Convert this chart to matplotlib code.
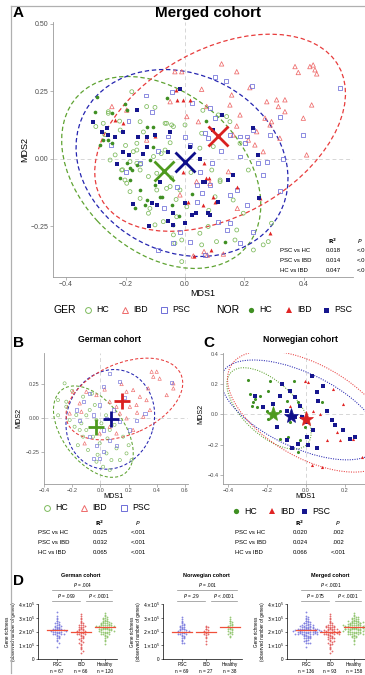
import numpy as np
import matplotlib
matplotlib.use("Agg")
import matplotlib.pyplot as plt
from matplotlib.patches import Ellipse

plt.rcParams['font.family'] = ['Liberation Sans', 'DejaVu Sans']

W, H = 365, 675

# ---------------- data: panel A (merged cohort, MDS) ----------------
a_ger_hc = [(-0.179, 0.249), (-0.258, 0.175), (-0.129, 0.194), (-0.101, 0.191), (-0.062, 0.132),
            (-0.045, 0.126), (0.0, 0.126), (-0.162, 0.058), (-0.235, 0.015), (-0.252, -0.004),
            (-0.174, 0.027), (-0.162, -0.016), (-0.106, 0.009), (-0.095, -0.053), (-0.123, -0.065),
            (-0.202, -0.078), (-0.196, -0.09), (0.112, 0.163), (0.140, 0.157), (0.151, 0.138),
            (0.095, 0.046), (0.185, 0.058), (0.213, -0.041), (0.118, -0.084), (-0.185, -0.121),
            (-0.151, -0.146), (-0.118, -0.183), (-0.123, -0.201), (-0.101, -0.244), (-0.073, -0.232),
            (-0.028, -0.214), (-0.039, -0.281), (-0.034, -0.312), (-0.011, -0.30), (0.050, -0.275),
            (0.078, -0.25), (0.101, -0.14), (0.118, -0.078), (0.162, -0.152), (0.196, -0.201),
            (0.174, -0.263), (0.168, -0.30), (0.106, -0.306), (0.230, -0.337), (0.263, -0.318),
            (0.280, -0.306), (0.291, -0.238), (-0.011, -0.38), (0.056, -0.318), (-0.095, -0.115),
            (-0.062, -0.109), (-0.20, 0.05), (-0.30, 0.12), (-0.22, 0.14), (-0.05, 0.06),
            (0.05, 0.04), (-0.15, -0.02), (-0.08, 0.02), (0.02, -0.05), (0.06, 0.18),
            (-0.27, 0.09), (-0.14, 0.10), (-0.03, -0.15), (0.08, -0.19), (-0.21, -0.04),
            (-0.258, 0.169), (-0.275, 0.132), (-0.218, 0.107), (-0.151, 0.138), (-0.067, 0.132),
            (-0.039, 0.120), (-0.067, 0.033), (-0.162, 0.033), (-0.185, -0.010), (-0.151, -0.041),
            (-0.213, -0.041), (-0.045, -0.070), (-0.050, -0.102), (-0.017, -0.115), (0.006, -0.177),
            (0.090, -0.041), (0.056, 0.095)]
a_ger_ibd = [(0.123, 0.352), (0.174, 0.323), (0.370, 0.342), (0.381, 0.320), (0.420, 0.342),
             (0.431, 0.348), (0.437, 0.330), (0.443, 0.315), (0.426, 0.200), (0.398, 0.151),
             (0.056, 0.258), (0.218, 0.264), (0.157, 0.237), (0.151, 0.200), (0.185, 0.163),
             (0.275, 0.212), (0.308, 0.219), (0.336, 0.219), (0.314, 0.194), (0.336, 0.175),
             (0.269, 0.151), (0.291, 0.138), (0.286, 0.126), (0.241, 0.101), (0.213, 0.070),
             (0.162, 0.089), (0.174, 0.122), (0.319, 0.077), (0.235, 0.052), (0.263, 0.027),
             (0.409, 0.015), (0.006, 0.157), (0.045, 0.138), (-0.050, 0.212), (-0.034, 0.323),
             (-0.011, 0.323), (0.073, 0.194), (-0.246, 0.194), (-0.196, 0.181), (-0.129, 0.070),
             (0.146, -0.047), (0.084, -0.090), (0.039, -0.084), (-0.017, -0.133), (0.176, -0.183),
             (0.064, -0.343), (0.075, -0.356), (0.129, -0.352), (0.028, -0.359)]
a_ger_psc = [(0.101, 0.305), (0.137, 0.290), (0.224, 0.270), (-0.045, 0.247), (-0.131, 0.235),
             (-0.112, 0.175), (0.022, 0.206), (0.084, 0.188), (-0.056, 0.083), (0.067, 0.095),
             (0.078, 0.077), (0.151, 0.089), (0.185, 0.083), (0.207, 0.083), (0.202, 0.058),
             (0.230, 0.107), (0.286, 0.089), (0.319, 0.157), (0.398, 0.089), (0.521, 0.262),
             (0.185, 0.009), (0.246, -0.016), (0.275, -0.010), (0.263, -0.059), (0.090, -0.016),
             (-0.151, -0.016), (0.017, 0.052), (-0.028, -0.103), (0.039, -0.096), (0.084, -0.096),
             (0.151, -0.133), (0.174, -0.115), (0.039, -0.158), (0.112, -0.232), (0.151, -0.238),
             (0.140, -0.263), (0.185, -0.312), (0.230, -0.269), (0.017, -0.306), (-0.017, -0.269),
             (-0.039, -0.312), (-0.090, -0.337), (0.067, -0.356), (0.056, -0.127), (-0.09, 0.03),
             (0.12, 0.03), (-0.19, 0.14), (0.05, -0.05), (-0.20, -0.05), (-0.25, 0.05),
             (0.32, -0.12), (0.10, 0.15), (0.0, 0.08), (-0.07, -0.18), (0.21, -0.17), (0.33, 0.0)]
a_nor_hc = [(-0.303, 0.175), (-0.202, 0.204), (-0.196, 0.181), (-0.275, 0.070), (-0.258, 0.070),
            (-0.246, 0.058), (-0.286, 0.052), (-0.196, -0.016), (-0.218, -0.072), (-0.185, -0.078),
            (-0.179, -0.041), (-0.162, -0.022), (-0.151, -0.115), (-0.129, -0.152), (-0.168, -0.183),
            (-0.062, 0.225), (-0.118, -0.004), (-0.101, -0.096), (-0.084, -0.140), (-0.045, -0.170),
            (-0.297, 0.231), (-0.246, 0.170), (-0.129, 0.120), (-0.106, 0.120), (-0.106, 0.046),
            (-0.185, -0.035), (-0.134, -0.170), (-0.078, -0.140), (-0.039, -0.244), (0.134, -0.306),
            (0.025, -0.13), (0.07, 0.14), (-0.02, -0.21)]
a_nor_ibd = [(-0.207, 0.132), (-0.235, 0.144), (-0.028, 0.219), (-0.008, 0.219), (0.017, 0.219),
             (-0.030, 0.256), (-0.101, 0.085), (0.071, -0.070), (-0.007, -0.048), (0.094, -0.141),
             (0.061, -0.170), (0.009, -0.158), (0.176, -0.105), (0.252, -0.144), (0.286, -0.273),
             (0.086, -0.337), (0.030, -0.359), (0.064, -0.014), (0.082, -0.072), (0.101, -0.158)]
a_nor_psc = [(-0.017, 0.258), (-0.162, 0.181), (-0.308, 0.138), (-0.280, 0.101), (-0.263, 0.114),
             (-0.258, 0.089), (-0.235, 0.083), (-0.207, 0.027), (-0.190, 0.015), (-0.157, 0.083),
             (-0.129, 0.083), (-0.101, 0.089), (-0.129, 0.046), (-0.056, 0.027), (0.017, 0.046),
             (0.095, 0.107), (0.123, 0.163), (0.230, 0.114), (0.246, 0.015), (0.162, -0.059),
             (0.146, -0.078), (0.062, -0.084), (-0.084, -0.084), (-0.174, -0.167), (-0.112, -0.164),
             (-0.095, -0.170), (-0.039, -0.201), (-0.056, -0.228), (-0.039, -0.244), (0.0, -0.236),
             (0.022, -0.207), (0.037, -0.200), (0.078, -0.200), (0.084, -0.207), (0.067, -0.084),
             (0.0, -0.164), (0.250, -0.146), (-0.21, 0.10), (-0.23, -0.02), (-0.05, 0.10),
             (0.05, 0.00), (-0.14, 0.02), (0.11, -0.16), (-0.12, -0.25)]
a_centroids = {'HC': (-0.071, -0.044), 'PSC': (0.0, -0.012), 'IBD': (0.112, 0.085)}
# ellipse: centre x, centre y, full width, full height, angle
a_ellipses = {'HC': (-0.08, -0.05, 0.80, 0.56, -50), 'PSC': (-0.01, -0.015, 0.76, 0.64, -40),
              'IBD': (0.118, 0.097, 0.94, 0.60, 35)}
a_stats = [('PSC vs HC', '0.018', '<.001'), ('PSC vs IBD', '0.014', '<.001'), ('HC vs IBD', '0.047', '<.001')]

# ---------------- data: panel B (German cohort) ----------------
b_hc = [(-0.254, 0.255), (-0.301, 0.132), (-0.242, 0.083), (-0.171, 0.022), (-0.135, -0.039),
        (-0.100, -0.088), (-0.052, -0.137), (-0.005, -0.186), (0.043, -0.260), (0.078, -0.309),
        (0.019, -0.358), (-0.028, -0.321), (-0.088, -0.235), (-0.123, -0.137), (-0.183, -0.064),
        (-0.218, -0.015), (-0.076, 0.059), (-0.040, 0.096), (-0.123, 0.157), (0.114, -0.223),
        (0.185, -0.260), (0.221, -0.309), (0.161, -0.137), (0.066, -0.088), (0.007, -0.039),
        (-0.028, -0.015), (0.138, -0.309), (0.066, -0.382), (-0.147, -0.088), (-0.242, 0.120),
        (-0.20, 0.20), (-0.06, 0.18), (0.04, 0.02), (-0.16, -0.20), (0.10, -0.05), (-0.02, -0.27),
        (-0.30, 0.02), (0.20, -0.20), (0.05, -0.15), (-0.10, 0.02)]
b_ibd = [(0.363, 0.341), (0.399, 0.341), (0.375, 0.304), (0.517, 0.255), (0.470, 0.169),
         (0.339, 0.218), (0.232, 0.206), (0.185, 0.194), (0.280, 0.157), (0.327, 0.132),
         (0.256, 0.096), (0.209, 0.083), (0.114, 0.083), (0.066, 0.120), (-0.028, 0.169),
         (-0.100, 0.194), (-0.195, 0.194), (-0.147, 0.108), (-0.135, 0.047), (-0.218, 0.034),
         (0.138, 0.034), (0.185, -0.002), (0.066, -0.064), (0.114, -0.113), (0.232, -0.088),
         (-0.005, -0.113), (-0.112, -0.186), (0.304, 0.010), (0.351, 0.059), (0.517, 0.218),
         (0.42, 0.29), (0.15, 0.25), (0.03, 0.21), (0.26, 0.04)]
b_psc = [(0.505, 0.26), (0.066, 0.328), (0.138, 0.267), (0.019, 0.23), (-0.076, 0.181),
         (-0.123, 0.120), (-0.005, 0.096), (0.090, 0.059), (-0.052, 0.022), (0.043, -0.002),
         (0.138, -0.027), (0.256, -0.015), (0.209, -0.088), (0.019, -0.088), (-0.076, -0.137),
         (-0.028, -0.199), (0.019, -0.248), (-0.005, -0.297), (-0.052, -0.297), (0.066, -0.162),
         (0.114, -0.199), (-0.171, 0.059), (-0.147, -0.015), (0.316, 0.034), (0.17, 0.15)]
b_centroids = {'HC': (-0.033, -0.064), 'PSC': (0.078, -0.010), 'IBD': (0.156, 0.127)}
b_ellipses = {'HC': (-0.05, -0.10, 0.76, 0.44, -55), 'PSC': (0.07, -0.01, 0.74, 0.62, 75),
              'IBD': (0.17, 0.14, 0.88, 0.52, 25)}
b_stats = [('PSC vs HC', '0.025', '<.001'), ('PSC vs IBD', '0.032', '<.001'), ('HC vs IBD', '0.065', '<.001')]

# ---------------- data: panel C (Norwegian cohort) ----------------
c_hc = [(-0.296, 0.227), (-0.287, 0.135), (-0.274, 0.081), (-0.262, 0.102), (-0.236, 0.124),
        (-0.193, 0.157), (-0.185, 0.222), (-0.279, 0.059), (-0.253, 0.048), (-0.202, 0.026),
        (-0.193, -0.028), (-0.133, 0.026), (-0.099, 0.092), (-0.060, 0.218), (-0.082, -0.050),
        (-0.133, -0.159), (-0.091, -0.148), (-0.031, -0.170), (-0.005, -0.083), (-0.039, -0.246),
        (0.080, 0.081), (-0.039, 0.081)]
c_ibd = [(-0.005, 0.222), (0.012, 0.211), (0.038, 0.026), (0.072, 0.004), (0.140, 0.168),
         (0.191, 0.070), (0.157, -0.115), (0.106, -0.170), (0.174, -0.170), (0.029, -0.333),
         (0.080, -0.344), (0.285, -0.279), (0.243, -0.159), (-0.082, 0.059)]
c_psc = [(-0.219, 0.048), (-0.262, 0.124), (-0.125, 0.200), (-0.133, 0.124), (-0.082, 0.157),
         (-0.056, 0.113), (-0.031, 0.059), (-0.099, 0.026), (-0.056, -0.017), (0.003, -0.050),
         (0.055, 0.146), (0.063, 0.092), (0.106, 0.026), (0.132, -0.039), (0.149, -0.072),
         (0.191, -0.105), (0.038, -0.105), (0.003, -0.148), (-0.039, -0.192), (-0.074, -0.224),
         (-0.099, -0.170), (-0.150, -0.083), (0.029, 0.255), (0.089, 0.190), (0.226, -0.159),
         (-0.022, -0.017), (0.012, -0.203), (0.055, -0.224), (-0.17, 0.07), (0.25, -0.15)]
c_centroids = {'HC': (-0.168, 0.005), 'PSC': (-0.077, -0.007), 'IBD': (0.0, -0.028)}
c_ellipses = {'HC': (-0.19, 0.04, 0.62, 0.30, -55), 'PSC': (-0.03, 0.03, 0.94, 0.46, -35),
              'IBD': (0.02, 0.02, 1.02, 0.56, -42)}
c_stats = [('PSC vs HC', '0.020', '.002'), ('PSC vs IBD', '0.024', '.002'), ('HC vs IBD', '0.066', '<.001')]

# ---------------- data: panel D (gene richness, x10^5) ----------------
d_groups = ['PSC', 'IBD', 'Healthy']
ger_psc = [3.45, 3.15, 3.0, 2.9, 2.8, 2.75, 2.7, 2.65, 2.6, 2.55, 2.5, 2.45, 2.4, 2.4, 2.35, 2.3, 2.3,
           2.25, 2.25, 2.2, 2.2, 2.2, 2.15, 2.15, 2.1, 2.1, 2.1, 2.1, 2.05, 2.05, 2.0, 2.0, 2.0, 1.95,
           1.95, 1.9, 1.9, 1.85, 1.85, 1.8, 1.8, 1.75, 1.7, 1.65, 1.6, 1.55, 1.5, 1.4, 1.3, 1.2, 0.9]
ger_ibd = [3.3, 3.15, 3.0, 2.9, 2.8, 2.7, 2.65, 2.6, 2.5, 2.5, 2.45, 2.4, 2.35, 2.3, 2.3, 2.25, 2.2,
           2.2, 2.15, 2.1, 2.1, 2.05, 2.05, 2.0, 2.0, 2.0, 1.95, 1.95, 1.9, 1.9, 1.85, 1.8, 1.8, 1.75,
           1.7, 1.65, 1.6, 1.55, 1.5, 1.45, 1.4, 1.3, 1.25, 1.2, 1.1, 1.0, 0.9, 0.8, 0.7, 0.6, 0.45]
ger_healthy = [3.35, 3.2, 3.1, 3.05, 3.0, 2.95, 2.9, 2.9, 2.85, 2.8, 2.8, 2.75, 2.75, 2.7, 2.7, 2.65,
               2.65, 2.6, 2.6, 2.6, 2.55, 2.55, 2.5, 2.5, 2.5, 2.45, 2.45, 2.45, 2.4, 2.4, 2.4, 2.35,
               2.35, 2.35, 2.3, 2.3, 2.3, 2.3, 2.25, 2.25, 2.25, 2.2, 2.2, 2.2, 2.2, 2.15, 2.15, 2.15,
               2.1, 2.1, 2.1, 2.05, 2.05, 2.0, 2.0, 2.0, 1.95, 1.95, 1.9, 1.9, 1.85, 1.8, 1.8, 1.75,
               1.7, 1.65, 1.6, 1.5, 1.4, 1.3, 1.1]
nor_psc = [3.05, 2.9, 2.8, 2.7, 2.6, 2.55, 2.5, 2.45, 2.4, 2.35, 2.3, 2.3, 2.25, 2.2, 2.2, 2.15, 2.15,
           2.1, 2.1, 2.05, 2.05, 2.0, 2.0, 2.0, 1.95, 1.95, 1.9, 1.9, 1.85, 1.8, 1.8, 1.75, 1.7, 1.65,
           1.6, 1.55, 1.5, 1.4, 1.3, 1.2, 1.15]
nor_ibd = [2.4, 2.35, 2.3, 2.2, 2.15, 2.1, 2.05, 2.0, 2.0, 1.95, 1.9, 1.85, 1.8, 1.75, 1.6, 1.5, 1.3, 1.1]
nor_healthy = [3.05, 2.9, 2.8, 2.75, 2.7, 2.6, 2.55, 2.5, 2.45, 2.4, 2.35, 2.3, 2.3, 2.25, 2.2, 2.2,
               2.15, 2.1, 2.05, 2.0, 1.95, 1.9, 1.85, 1.8, 1.7, 1.6]
ger_centre = [2.12, 2.0, 2.3]
nor_centre = [2.0, 2.0, 2.3]
mrg_centre = [2.1, 2.0, 2.35]
ger_n = [67, 66, 120]
nor_n = [69, 27, 38]
mrg_n = [136, 93, 158]
ger_p = ['= .004', '= .099', '< .0001']
nor_p = ['= .001', '= .29', '< .0001']
mrg_p = ['< .0001', '= .075', '< .0001']

# ---------------- styles ----------------
open_col = {'HC': '#7DBA5C', 'IBD': '#EE6A6A', 'PSC': '#6E6ED8'}
fill_col = {'HC': '#3F8F22', 'IBD': '#E02424', 'PSC': '#16168E'}
ell_col = {'HC': '#5FA332', 'IBD': '#E83C3C', 'PSC': '#2424B0'}
cen_col = {'HC': '#4E9A1E', 'IBD': '#DA2121', 'PSC': '#0E0E8A'}
mk = {'HC': 'o', 'IBD': '^', 'PSC': 's'}
d_col = ['#7B7BDE', '#E25B5B', '#8EC46A']
tick_grey = '#4D4D4D'


def rect(x0, y0, x1, y1):
    return [x0 / W, 1 - y1 / H, (x1 - x0) / W, (y1 - y0) / H]


def style_mds(ax, fs):
    for s in ['top', 'right']:
        ax.spines[s].set_visible(False)
    for s in ['left', 'bottom']:
        ax.spines[s].set_color('#9A9A9A')
        ax.spines[s].set_linewidth(0.6)
    ax.tick_params(length=2, width=0.5, colors='#9A9A9A', labelcolor=tick_grey, labelsize=fs, pad=1)
    ax.axhline(0, color='#D6D6D6', lw=0.7, ls=(0, (4, 3)), zorder=0)
    ax.axvline(0, color='#D6D6D6', lw=0.7, ls=(0, (4, 3)), zorder=0)
    ax.set_facecolor('none')


def pts(ax, data, group, filled, size, lw=0.55):
    xy = np.array(data)
    if filled:
        ax.scatter(xy[:, 0], xy[:, 1], s=size, marker=mk[group], c=fill_col[group], linewidths=0, zorder=3)
    else:
        ax.scatter(xy[:, 0], xy[:, 1], s=size, marker=mk[group], facecolors='none',
                   edgecolors=open_col[group], linewidths=lw, zorder=3)


def ellipses(ax, ell, ls, lw):
    for g, (cx, cy, w, h, ang) in ell.items():
        ax.add_patch(Ellipse((cx, cy), w, h, angle=ang, fill=False, ec=ell_col[g], lw=lw, ls=ls, zorder=2))


fig = plt.figure(figsize=(W / 100, H / 100), dpi=100)

# ---------------- Panel A ----------------
axA = fig.add_axes(rect(53, 22, 353, 277))
style_mds(axA, 5)
ellipses(axA, a_ellipses, (0, (3.5, 2.2)), 0.9)
pts(axA, a_ger_hc, 'HC', False, 8)
pts(axA, a_ger_ibd, 'IBD', False, 10)
pts(axA, a_ger_psc, 'PSC', False, 8)
pts(axA, a_nor_hc, 'HC', True, 7)
pts(axA, a_nor_ibd, 'IBD', True, 8)
pts(axA, a_nor_psc, 'PSC', True, 6)
for g, (cx, cy) in a_centroids.items():
    axA.plot(cx, cy, marker='x', ms=14, mew=2.0, color=cen_col[g], zorder=5)
axA.set_xlim(-0.444, 0.565)
axA.set_ylim(-0.437, 0.507)
axA.set_xticks([-0.4, -0.2, 0.0, 0.2, 0.4])
axA.set_xticklabels(['\u22120.4', '\u22120.2', '0.0', '0.2', '0.4'])
axA.set_yticks([-0.25, 0.0, 0.25, 0.5])
axA.set_yticklabels(['\u22120.25', '0.00', '0.25', '0.50'])

# ---------------- Panel B ----------------
axB = fig.add_axes(rect(44, 353, 188, 484))
style_mds(axB, 4)
ellipses(axB, b_ellipses, (0, (3, 2)), 0.75)
pts(axB, b_hc, 'HC', False, 5, 0.45)
pts(axB, b_ibd, 'IBD', False, 6, 0.45)
pts(axB, b_psc, 'PSC', False, 5, 0.45)
for g, (cx, cy) in b_centroids.items():
    axB.plot(cx, cy, marker='+', ms=12, mew=2.0, color=cen_col[g], zorder=5)
axB.set_xlim(-0.40, 0.621)
axB.set_ylim(-0.485, 0.478)
axB.set_xticks([-0.4, -0.2, 0.0, 0.2, 0.4, 0.6])
axB.set_xticklabels(['\u22120.4', '\u22120.2', '0.0', '0.2', '0.4', '0.6'])
axB.set_yticks([-0.25, 0.0, 0.25])
axB.set_yticklabels(['\u22120.25', '0.00', '0.25'])

# ---------------- Panel C ----------------
axC = fig.add_axes(rect(223, 353, 375, 484))
style_mds(axC, 4)
ellipses(axC, c_ellipses, (0, (1, 1.3)), 0.75)
pts(axC, c_hc, 'HC', True, 5)
pts(axC, c_ibd, 'IBD', True, 5)
pts(axC, c_psc, 'PSC', True, 5)
for g, (cx, cy) in c_centroids.items():
    axC.plot(cx, cy, marker='*', ms=11, mew=0.5, color=cen_col[g], zorder=5)
axC.set_xlim(-0.426, 0.354)
axC.set_ylim(-0.458, 0.405)
axC.set_xticks([-0.4, -0.2, 0.0, 0.2])
axC.set_xticklabels(['\u22120.4', '\u22120.2', '0.0', '0.2'])
axC.set_yticks([-0.4, -0.2, 0.0, 0.2, 0.4])
axC.set_yticklabels(['\u22120.4', '\u22120.2', '0.0', '0.2', '0.4'])


# ---------------- Panel D ----------------
def swarm_x(vals, centre, step=0.09, bin_h=0.12):
    vals = np.asarray(vals)
    xs = np.zeros(len(vals))
    bins = np.floor(vals / bin_h).astype(int)
    for b in np.unique(bins):
        idx = np.where(bins == b)[0]
        for k, i in enumerate(idx):
            xs[i] = centre + ((k + 1) // 2) * step * (1 if k % 2 else -1)
    return xs


def richness(x0, title, series, centres, ns, ptxt):
    ax = fig.add_axes(rect(x0, 604, x0 + 79, 659))
    for i, vals in enumerate(series):
        ax.scatter(swarm_x(vals, i), vals, s=1.7, c=d_col[i], linewidths=0, alpha=0.9, zorder=2)
        ax.plot([i - 0.42, i + 0.42], [centres[i]] * 2, color='#F0503A', lw=0.9, zorder=3)
    ax.set_xlim(-0.8, 2.5)
    ax.set_ylim(0, 4)
    for s in ['top', 'right']:
        ax.spines[s].set_visible(False)
    for s in ['left', 'bottom']:
        ax.spines[s].set_linewidth(0.5)
    ax.set_yticks([0, 1, 2, 3, 4])
    ax.set_yticklabels(['0'] + [r'$%d{\times}10^5$' % k for k in range(1, 5)])
    ax.set_xticks([0, 1, 2])
    ax.set_xticklabels(['%s\nn = %d' % (g, n) for g, n in zip(d_groups, ns)], linespacing=1.3)
    ax.tick_params(labelsize=3.4, length=1.5, width=0.4, pad=1)
    ax.set_ylabel('Gene richness\n(observed number of genes)', fontsize=3.3, labelpad=1.5, linespacing=1.1)
    ax.set_facecolor('none')
    # significance brackets
    ax.plot([-0.2, 2.3], [5.02, 5.02], color='#8A8A8A', lw=0.5, clip_on=False)
    ax.plot([-0.2, 0.95], [4.22, 4.22], color='#8A8A8A', lw=0.5, clip_on=False)
    ax.plot([1.2, 2.3], [4.22, 4.22], color='#8A8A8A', lw=0.5, clip_on=False)
    ax.text(1.05, 5.35, r'$\it{P}$ ' + ptxt[0], fontsize=3.4, ha='center', va='center')
    ax.text(0.38, 4.55, r'$\it{P}$ ' + ptxt[1], fontsize=3.4, ha='center', va='center')
    ax.text(1.75, 4.55, r'$\it{P}$ ' + ptxt[2], fontsize=3.4, ha='center', va='center')
    ax.text(1.0, 6.1, title, fontsize=4.0, fontweight='bold', ha='center', va='center')
    return ax


mrg_psc = ger_psc + nor_psc
mrg_ibd = ger_ibd + nor_ibd
mrg_healthy = ger_healthy + nor_healthy
richness(38, 'German cohort', [ger_psc, ger_ibd, ger_healthy], ger_centre, ger_n, ger_p)
richness(163, 'Norwegian cohort', [nor_psc, nor_ibd, nor_healthy], nor_centre, nor_n, nor_p)
richness(287, 'Merged cohort', [mrg_psc, mrg_ibd, mrg_healthy], mrg_centre, mrg_n, mrg_p)

# ---------------- overlay: labels, legends, tables ----------------
ov = fig.add_axes([0, 0, 1, 1])
ov.set_xlim(0, W)
ov.set_ylim(H, 0)
ov.axis('off')
ov.patch.set_alpha(0)

# outer frame
ov.plot([11, W], [6, 6], color='#B0B0B0', lw=0.9)
ov.plot([11, 11], [6, 673], color='#B0B0B0', lw=0.9)

for lab, x, y in [('A', 13, 13), ('B', 13, 343), ('C', 203, 343), ('D', 13, 581)]:
    ov.text(x, y, lab, fontsize=11, fontweight='bold', ha='left', va='center')

ov.text(208, 13, 'Merged cohort', fontsize=11, fontweight='bold', ha='center', va='center')
ov.text(110, 340, 'German cohort', fontsize=6.3, fontweight='bold', ha='center', va='center')
ov.text(300, 340, 'Norwegian cohort', fontsize=6.3, fontweight='bold', ha='center', va='center')

ov.text(203, 293, 'MDS1', fontsize=6.5, ha='center', va='center')
ov.text(25, 150, 'MDS2', fontsize=6.5, ha='center', va='center', rotation=90)
ov.text(113, 497, 'MDS1', fontsize=5.2, ha='center', va='center')
ov.text(19, 418, 'MDS2', fontsize=5.2, ha='center', va='center', rotation=90)
ov.text(306, 497, 'MDS1', fontsize=5.2, ha='center', va='center')
ov.text(201, 414, 'MDS2', fontsize=5.2, ha='center', va='center', rotation=90)


def leg_item(x, y, g, filled, label, ms, fs):
    if filled:
        ov.plot(x, y, marker=mk[g], ms=ms, color=fill_col[g], mew=0, ls='none')
    else:
        ov.plot(x, y, marker=mk[g], ms=ms, mfc='none', mec=open_col[g], mew=0.7, ls='none')
    ov.text(x + 8, y, label, fontsize=fs, ha='left', va='center')


# legend A
ov.text(53, 310, 'GER', fontsize=7.5, ha='left', va='center')
leg_item(88, 310, 'HC', False, 'HC', 4.2, 6.3)
leg_item(125, 310, 'IBD', False, 'IBD', 4.8, 6.3)
leg_item(164, 310, 'PSC', False, 'PSC', 4.2, 6.3)
ov.text(216, 310, 'NOR', fontsize=7.5, ha='left', va='center')
leg_item(251, 310, 'HC', True, 'HC', 3.8, 6.3)
leg_item(289, 310, 'IBD', True, 'IBD', 4.2, 6.3)
leg_item(326, 310, 'PSC', True, 'PSC', 3.6, 6.3)
# legend B, C
leg_item(47, 508, 'HC', False, 'HC', 4.2, 6.3)
leg_item(84, 508, 'IBD', False, 'IBD', 4.8, 6.3)
leg_item(124, 508, 'PSC', False, 'PSC', 4.2, 6.3)
leg_item(236, 511, 'HC', True, 'HC', 3.8, 6.3)
leg_item(272, 511, 'IBD', True, 'IBD', 4.2, 6.3)
leg_item(304, 511, 'PSC', True, 'PSC', 3.6, 6.3)


def stats_table(xl, xr2, xp, y0, rows, fs, p_ha='center'):
    ov.text(xr2, y0, r'$\mathbf{R^2}$', fontsize=fs, ha='center', va='center')
    ov.text(xp, y0, r'$\mathbf{\it{P}}$', fontsize=fs, ha=p_ha, va='center')
    for k, (lab, r2, p) in enumerate(rows):
        y = y0 + 10 * (k + 1)
        ov.text(xl, y, lab, fontsize=fs, ha='left', va='center')
        ov.text(xr2, y, r2, fontsize=fs, ha='center', va='center')
        ov.text(xp, y, p, fontsize=fs, ha=p_ha, va='center')


# panel A table runs past the right edge of the figure, as in the source
stats_table(280, 333, 357, 241, a_stats, 4.3, p_ha='left')
stats_table(38, 100, 138, 523, b_stats, 4.3)
stats_table(235, 300, 338, 523, c_stats, 4.3)

fig.savefig('out.png', dpi=100)
